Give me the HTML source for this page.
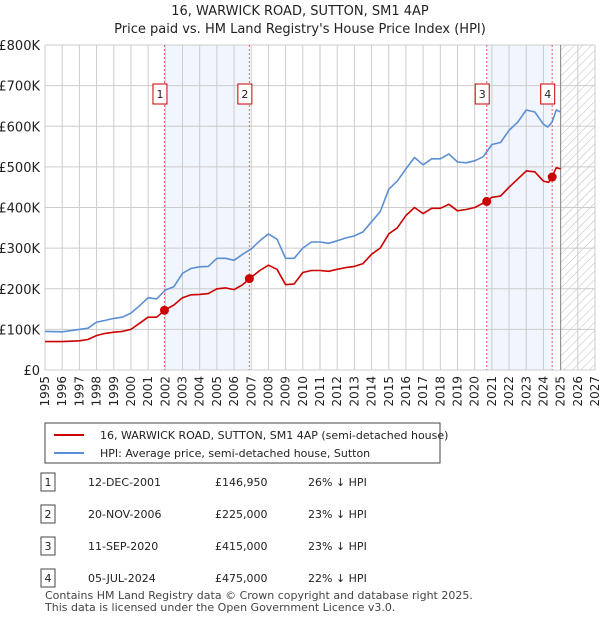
<!DOCTYPE html>
<html><head><meta charset="utf-8"><style>
body{margin:0;background:#fff;font-family:"Liberation Sans","DejaVu Sans",sans-serif;}
svg text{font-family:"DejaVu Sans","Liberation Sans",sans-serif;}
</style></head><body>
<svg width="600" height="620" viewBox="0 0 600 620" xmlns="http://www.w3.org/2000/svg">
<defs><pattern id="hatch" width="6" height="6" patternUnits="userSpaceOnUse" patternTransform="rotate(45)"><line x1="0" y1="0" x2="0" y2="6" stroke="#bbb" stroke-width="1"/></pattern></defs>
<text x="300" y="15" text-anchor="middle" font-size="13" fill="#222">16, WARWICK ROAD, SUTTON, SM1 4AP</text>
<text x="300" y="33" text-anchor="middle" font-size="13" fill="#222">Price paid vs. HM Land Registry's House Price Index (HPI)</text>
<g id="plot"></g>
<g>
<rect x="45" y="423" width="395" height="40" fill="#fff" stroke="#444"/>
<line x1="54" y1="435" x2="84" y2="435" stroke="#cc0000" stroke-width="2"/>
<text x="100" y="439" font-size="11" fill="#222">16, WARWICK ROAD, SUTTON, SM1 4AP (semi-detached house)</text>
<line x1="54" y1="453" x2="84" y2="453" stroke="#5b8fd4" stroke-width="2"/>
<text x="100" y="457" font-size="11" fill="#222">HPI: Average price, semi-detached house, Sutton</text>
</g>
<g id="table" font-size="11" fill="#222"></g>
<text x="45" y="599" font-size="11" fill="#444">Contains HM Land Registry data © Crown copyright and database right 2025.</text>
<text x="45" y="611" font-size="11" fill="#444">This data is licensed under the Open Government Licence v3.0.</text>
</svg>
<script>
const yTicks=[0,100,200,300,400,500,600,700,800];
const yTickLabels=["£0","£100K","£200K","£300K","£400K","£500K","£600K","£700K","£800K"];
const xYears=[1995,1996,1997,1998,1999,2000,2001,2002,2003,2004,2005,2006,2007,2008,2009,2010,2011,2012,2013,2014,2015,2016,2017,2018,2019,2020,2021,2022,2023,2024,2025,2026,2027];
const hpiT=[1995,1996,1997,1997.5,1998,1998.5,1999,1999.5,2000,2000.5,2001,2001.5,2002,2002.5,2003,2003.5,2004,2004.5,2005,2005.5,2006,2006.5,2007,2007.5,2008,2008.5,2009,2009.5,2010,2010.5,2011,2011.5,2012,2012.5,2013,2013.5,2014,2014.5,2015,2015.5,2016,2016.5,2017,2017.5,2018,2018.5,2019,2019.5,2020,2020.5,2021,2021.5,2022,2022.5,2023,2023.5,2024,2024.25,2024.5,2024.75,2025];
const hpiV=[95,94,100,103,118,122,127,130,140,158,178,175,197,205,238,250,254,255,275,275,270,285,298,318,335,322,275,275,300,315,315,312,318,325,330,340,365,390,445,465,495,523,505,520,520,532,512,510,515,525,555,560,590,610,640,635,605,598,610,640,635];
const priceT=[1995,1996,1997,1997.5,1998,1998.5,1999,1999.5,2000,2000.5,2001,2001.5,2001.95,2002.5,2003,2003.5,2004,2004.5,2005,2005.5,2006,2006.5,2006.9,2007.5,2008,2008.5,2009,2009.5,2010,2010.5,2011,2011.5,2012,2012.5,2013,2013.5,2014,2014.5,2015,2015.5,2016,2016.5,2017,2017.5,2018,2018.5,2019,2019.5,2020,2020.7,2021,2021.5,2022,2022.5,2023,2023.5,2024,2024.3,2024.5,2024.75,2025];
const priceV=[70,70,72,75,85,90,93,95,100,115,130,130,147,160,178,185,186,188,200,202,198,210,225,245,258,248,210,212,240,245,245,243,248,252,255,262,285,300,335,350,380,400,385,398,398,408,392,395,400,415,425,428,450,470,490,488,465,462,475,498,495];
const saleLabels=["1","2","3","4"];
const saleT=[2001.95,2006.89,2020.7,2024.51];
const saleV=[146.95,225,415,475];
const saleDates=["12-DEC-2001","20-NOV-2006","11-SEP-2020","05-JUL-2024"];
const salePrices=["£146,950","£225,000","£415,000","£475,000"];
const saleDiffs=["26% ↓ HPI","23% ↓ HPI","23% ↓ HPI","22% ↓ HPI"];

const NS="http://www.w3.org/2000/svg";
const X0=45,X1=595,Y0=370,Y1=45;
const xs=t=>X0+(t-1995)/32*(X1-X0);
const ys=v=>Y0-v/800*(Y0-Y1);
const plot=document.getElementById('plot');
function mk(tag,attrs,parent){const e=document.createElementNS(NS,tag);for(const k in attrs)e.setAttribute(k,attrs[k]);(parent||plot).appendChild(e);return e;}
for(let i=0;i<4;i+=2){const r=mk('rect',{x:xs(saleT[i]),y:Y1,width:xs(saleT[i+1])-xs(saleT[i]),height:Y0-Y1,fill:'#eef3fc',opacity:0.8});

}
const h=mk('rect',{x:xs(2025),y:Y1,width:X1-xs(2025),height:Y0-Y1,fill:'url(#hatch)'});


xYears.forEach(y=>{const l=mk('line',{x1:xs(y),x2:xs(y),y1:Y1,y2:Y0,stroke:'#ccc','stroke-width':1});


const t=mk('text',{x:0,y:0,'font-size':12,fill:'#222','text-anchor':'end',transform:`translate(${xs(y)+4},${Y0+6}) rotate(-90)`});t.textContent=y;

});
yTicks.forEach((v,i)=>{const l=mk('line',{x1:X0,x2:X1,y1:ys(v),y2:ys(v),stroke:'#ccc','stroke-width':1});


const t=mk('text',{x:X0-5,y:ys(v)+5,'font-size':13,fill:'#222','text-anchor':'end'});t.textContent=yTickLabels[i];

});
const bl=mk('line',{x1:xs(2025),x2:xs(2025),y1:Y1,y2:Y0,stroke:'#888','stroke-width':1});


saleT.forEach(t=>{const l=mk('line',{x1:xs(t),x2:xs(t),y1:Y1,y2:Y0,stroke:'#e06060','stroke-width':1,'stroke-dasharray':'2,2'});

});
function line(T,V,c,name){const d=T.map((t,i)=>(i?'L':'M')+xs(t).toFixed(1)+','+ys(V[i]).toFixed(1)).join('');const p=mk('path',{d:d,fill:'none',stroke:c,'stroke-width':1.6,'stroke-linejoin':'round'});

}
line(hpiT,hpiV,'#5b8fd4','hpi-line');
line(priceT,priceV,'#cc0000','price-paid-line');
saleT.forEach((t,i)=>{const c=mk('circle',{cx:xs(t),cy:ys(saleV[i]),r:4.5,fill:'#cc0000'});


const r=mk('rect',{x:xs(t)-11.5,y:84,width:14,height:20,fill:'#fff',stroke:'#cc0000'});


const tx=mk('text',{x:xs(t)-4.5,y:98,'font-size':11,fill:'#222','text-anchor':'middle'});tx.textContent=saleLabels[i];

});
const tb=document.getElementById('table');
saleLabels.forEach((s,i)=>{const y=482+i*32;
const r=mk('rect',{x:41,y:y-9,width:14,height:18,fill:'#fff',stroke:'#444'},tb);


const cols=[[48,s,'middle'],[88,saleDates[i],'start'],[215,salePrices[i],'start'],[308,saleDiffs[i],'start']];
cols.forEach(c=>{const t=mk('text',{x:c[0],y:y+4,'text-anchor':c[2],'font-size':11},tb);t.textContent=c[1];

});});
</script>
</body></html>
